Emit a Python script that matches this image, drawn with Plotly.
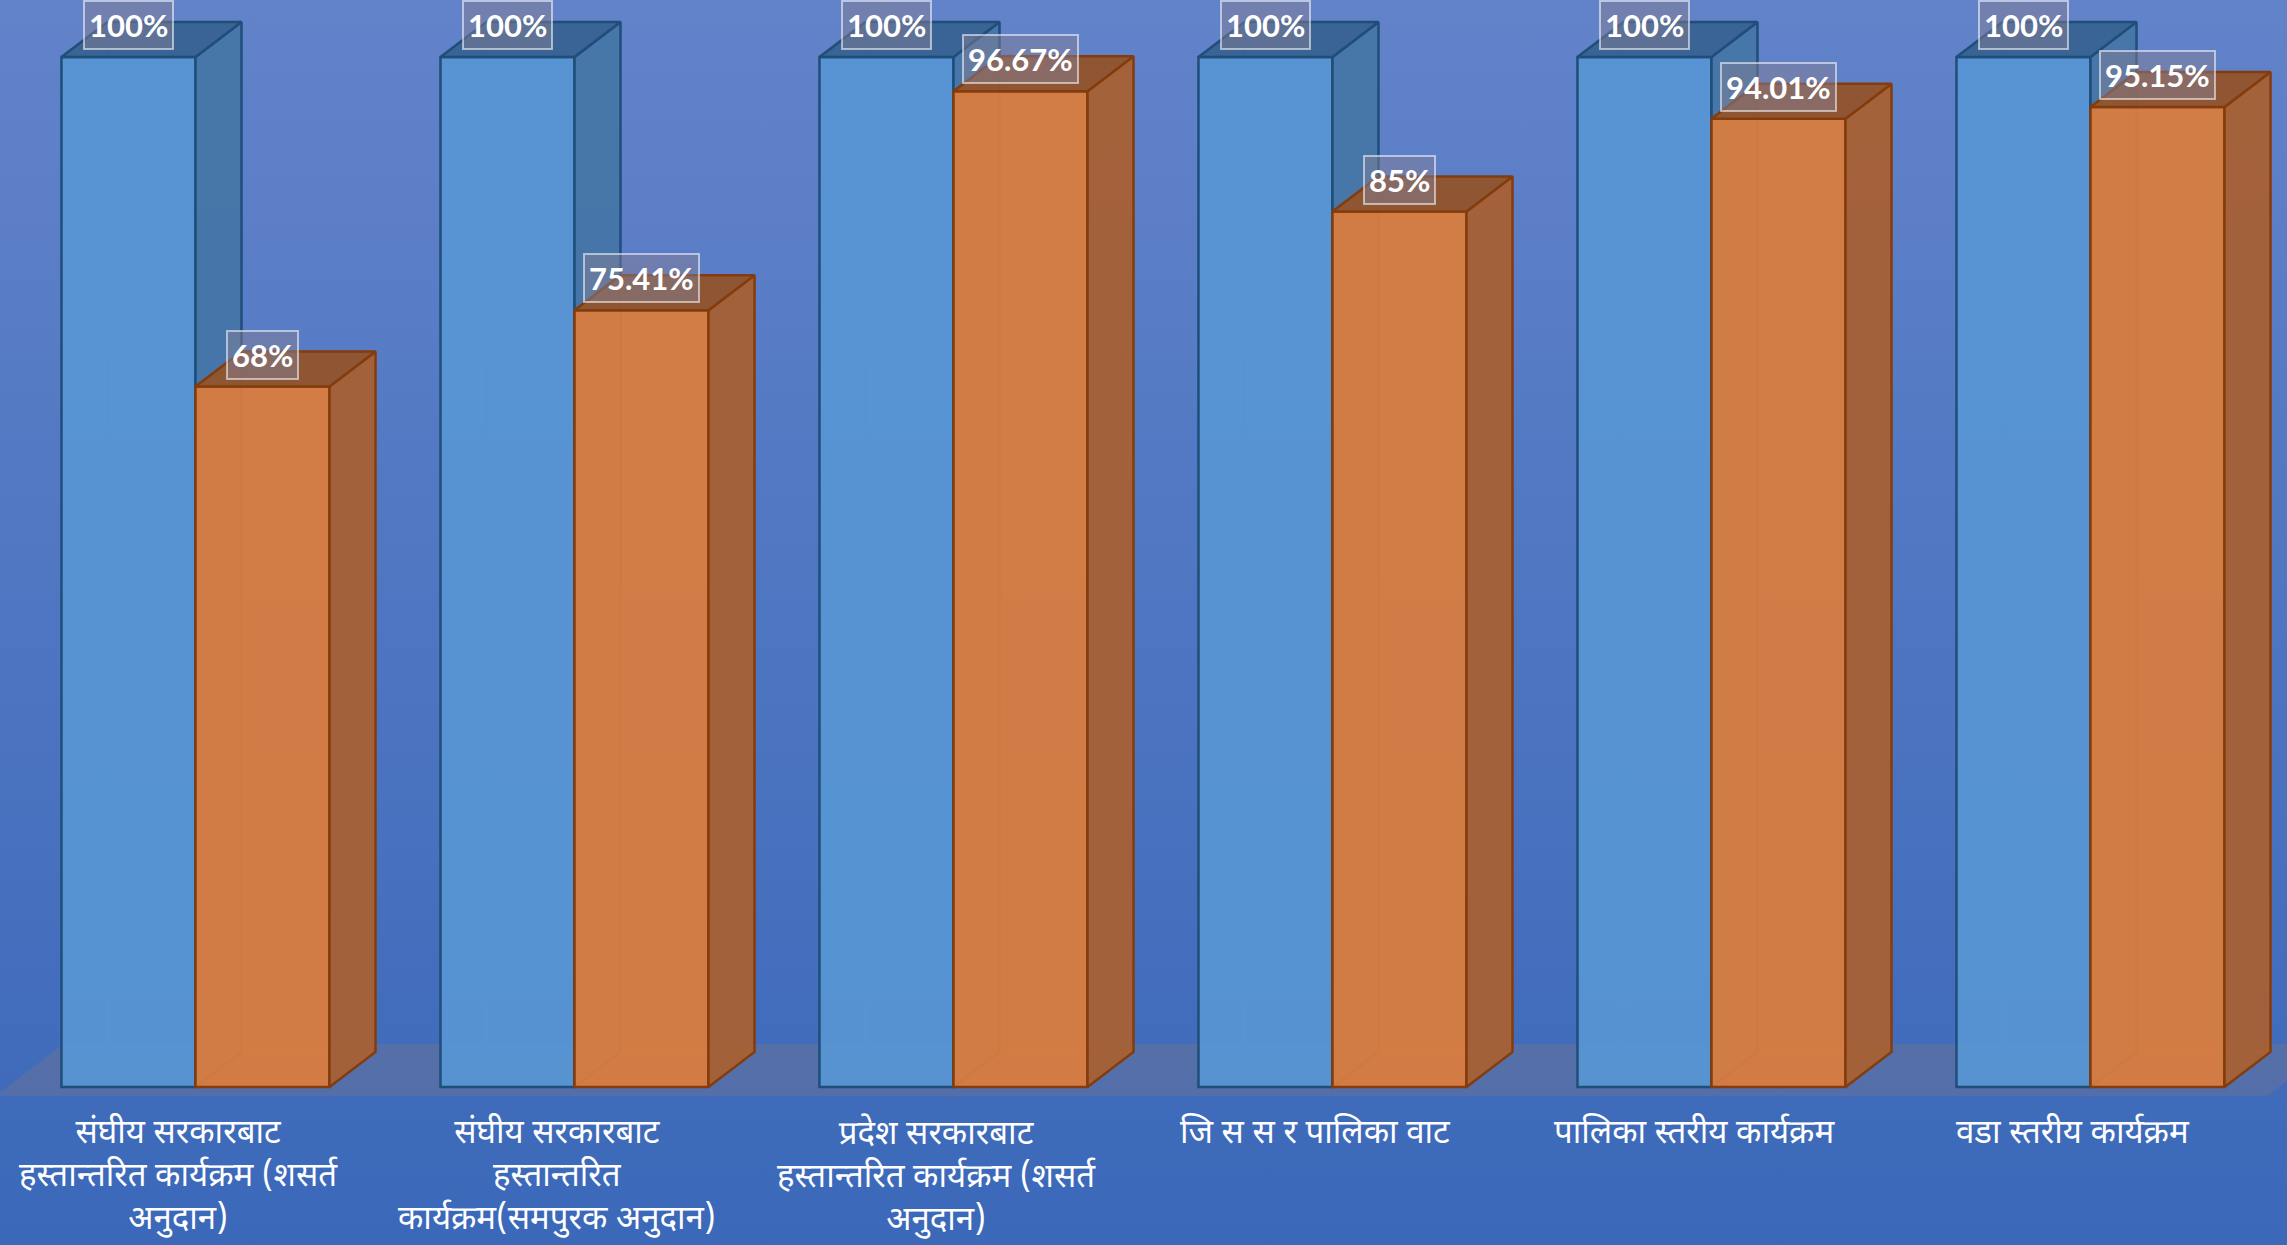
import base64
import plotly.graph_objects as go

# ---------------- data ----------------
categories = [
    "संघीय सरकारबाट<br>हस्तान्तरित कार्यक्रम (शसर्त<br>अनुदान)",
    "संघीय सरकारबाट<br>हस्तान्तरित<br>कार्यक्रम(समपुरक अनुदान)",
    "प्रदेश सरकारबाट<br>हस्तान्तरित कार्यक्रम (शसर्त<br>अनुदान)",
    "जि स स र पालिका वाट",
    "पालिका स्तरीय कार्यक्रम",
    "वडा स्तरीय कार्यक्रम",
]
series1 = [100, 100, 100, 100, 100, 100]
series2 = [68, 75.41, 96.67, 85, 94.01, 95.15]

# ---------------- geometry / style ----------------
W = 0.3536      # bar width (category units)
DX = 0.1214     # 3D depth offset x
DY = 3.40       # 3D depth offset y
XR = [-0.5158, 5.5185]
YR = [-15.34, 105.53]
FIG_W, FIG_H = 2287, 1245

BLUE = dict(front="rgba(88,150,212,0.92)", side="rgba(70,118,168,0.95)",
            top="rgba(56,98,146,0.95)", edge="#1f4e79", inner="rgba(60,120,180,0.55)")
ORNG = dict(front="rgba(218,124,62,0.94)", side="rgba(168,96,52,0.95)",
            top="rgba(146,84,46,0.96)", edge="#843c0c", inner="rgba(235,125,45,0.6)")

xs = list(range(len(categories)))

fig = go.Figure()

# floor
fx0, fx1 = XR[0] - 0.013, len(categories) - 0.534
fdx, fy_front, fy_back = 0.18, -0.87, 4.17
fig.add_trace(go.Scatter(
    x=[fx0, fx1, fx1 + fdx, fx0 + fdx, fx0],
    y=[fy_front, fy_front, fy_back, fy_back, fy_front],
    fill="toself", mode="lines", line=dict(width=0),
    fillcolor="rgba(128,118,130,0.32)", hoverinfo="skip", showlegend=False, zorder=0))


def faces(values, off, style, z):
    ex, ey, sx, sy, tx, ty = [], [], [], [], [], []
    for xc, v in zip(xs, values):
        xl = xc + off
        xr = xl + W
        # hidden back edges (seen through transparent faces)
        ex += [xl, xl + DX, xl + DX, None, xl + DX, xr + DX, None]
        ey += [0, DY, v + DY, None, DY, DY, None]
        # side face
        sx += [xr, xr + DX, xr + DX, xr, xr, None]
        sy += [0, DY, v + DY, v, 0, None]
        # top face
        tx += [xl, xl + DX, xr + DX, xr, xl, None]
        ty += [v, v + DY, v + DY, v, v, None]
    fig.add_trace(go.Scatter(x=ex, y=ey, mode="lines",
                             line=dict(color=style["inner"], width=2),
                             hoverinfo="skip", showlegend=False, zorder=1))
    fig.add_trace(go.Scatter(x=sx, y=sy, mode="lines", fill="toself",
                             fillcolor=style["side"],
                             line=dict(color=style["edge"], width=2.5),
                             hoverinfo="skip", showlegend=False, zorder=z))
    fig.add_trace(go.Scatter(x=tx, y=ty, mode="lines", fill="toself",
                             fillcolor=style["top"],
                             line=dict(color=style["edge"], width=2.5),
                             hoverinfo="skip", showlegend=False, zorder=z))


# blue series
fig.add_trace(go.Bar(x=xs, y=series1, width=W, offset=-W, base=0,
                     marker=dict(color=BLUE["front"], line=dict(color=BLUE["edge"], width=2.5)),
                     showlegend=False, zorder=2))
faces(series1, -W, BLUE, 2)

# orange series
fig.add_trace(go.Bar(x=xs, y=series2, width=W, offset=0, base=0,
                     marker=dict(color=ORNG["front"], line=dict(color=ORNG["edge"], width=2.5)),
                     showlegend=False, zorder=3))
faces(series2, 0, ORNG, 3)

# data labels
for values, off in ((series1, -W), (series2, 0)):
    for xc, v in zip(xs, values):
        fig.add_annotation(
            x=xc + off + W / 2, y=v + 3.1, xref="x", yref="y",
            text=f"<b>{v:g}%</b>", showarrow=False,
            font=dict(family="Lato, Open Sans, sans-serif", size=31, color="white"),
            bgcolor="rgba(130,125,150,0.5)", bordercolor="rgba(255,255,255,0.55)",
            borderwidth=2, borderpad=4, xanchor="center", yanchor="middle")

# category labels
for xc, cat in zip(xs, categories):
    fig.add_annotation(
        x=xc - 0.045, y=-2.35, xref="x", yref="y", text=cat, showarrow=False,
        font=dict(family="Noto Sans Devanagari, Noto Sans, Nirmala UI, Mangal, sans-serif",
                  size=33, color="white"),
        xanchor="center", yanchor="top", align="center")

# gradient background
svg = ('<svg xmlns="http://www.w3.org/2000/svg" width="100" height="100" preserveAspectRatio="none">'
       '<defs><linearGradient id="g" x1="0" y1="0" x2="0" y2="1">'
       '<stop offset="0" stop-color="#6283ca"/><stop offset="1" stop-color="#3b68b9"/>'
       '</linearGradient></defs><rect width="100" height="100" fill="url(#g)"/></svg>')
bg_uri = "data:image/svg+xml;base64," + base64.b64encode(svg.encode()).decode()

fig.update_layout(
    width=FIG_W, height=FIG_H,
    margin=dict(l=0, r=0, t=0, b=0),
    paper_bgcolor="#4f76c2", plot_bgcolor="rgba(0,0,0,0)",
    barmode="overlay",
    xaxis=dict(range=XR, visible=False, fixedrange=True),
    yaxis=dict(range=YR, visible=False, fixedrange=True),
    images=[dict(source=bg_uri, xref="paper", yref="paper", x=0, y=1, sizex=1, sizey=1,
                 sizing="stretch", layer="below", xanchor="left", yanchor="top")],
    showlegend=False,
)

fig.write_html(
    "out.html",
    config={"displayModeBar": False},
    post_script="document.body.style.margin='0';document.body.style.padding='0';"
                "document.body.style.overflow='hidden';",
)
